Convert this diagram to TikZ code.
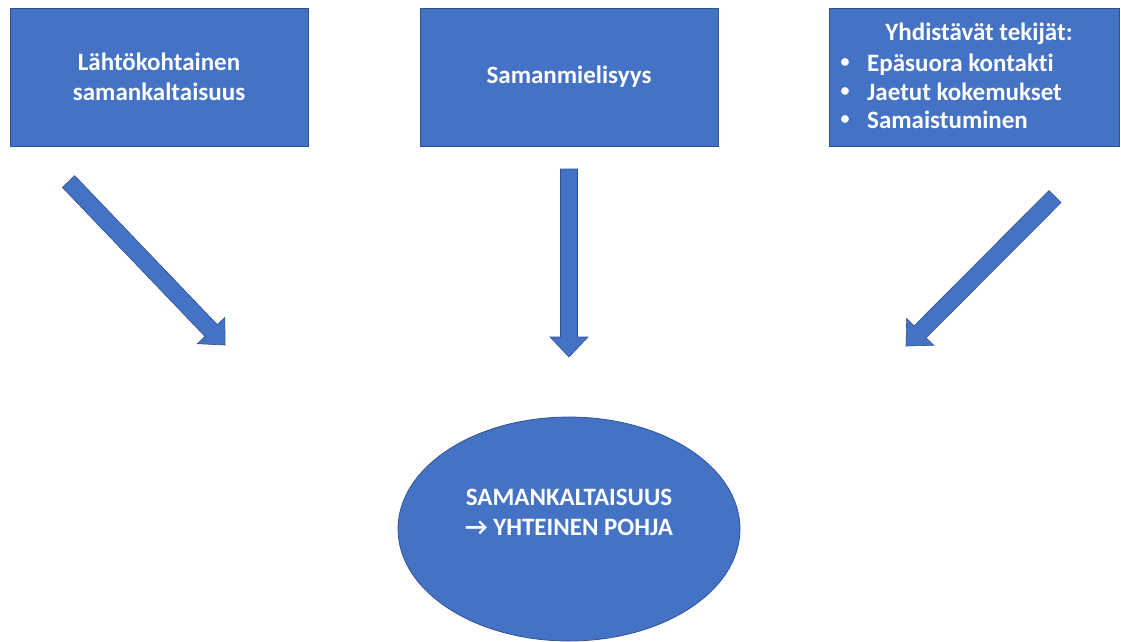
\documentclass[tikz,border=0pt]{standalone}
\usepackage{fontspec}
\setmainfont{Carlito}[Ligatures=NoCommon]
\newfontfamily\symfont{DejaVu Sans}
\usetikzlibrary{calc,shapes.geometric}
\definecolor{blueA}{HTML}{4472C4}
\definecolor{blueB}{HTML}{2F528F}
\tikzset{
  box/.style={draw=blueB, fill=blueA, line width=0.75pt, minimum height=138pt, inner sep=0pt,
    text=white, font=\fontsize{25}{30}\selectfont\bfseries, align=center},
  txt/.style={text=white, font=\fontsize{25}{30}\selectfont\bfseries, inner sep=0pt},
  dot/.style={text=white, font=\fontsize{18}{18}\selectfont\bfseries, inner sep=0pt},
  blockarrow/.style={draw=blueB, fill=blueA, line width=0.6pt, line join=miter},
  oval/.style={draw=blueB, fill=blueA, line width=0.75pt, ellipse, inner sep=0pt,
    minimum width=342pt, minimum height=224pt},
}
\newcommand\blockarr[2]{%
  \draw[blockarrow] let \p1=($(#2)-(#1)$), \n1={atan2(\y1,\x1)}, \n2={veclen(\x1,\y1)} in
  [shift={(#1)}, rotate=\n1] (0,-8.5) -- (\n2-20,-8.5) -- (\n2-20,-19) -- (\n2,0)
  -- (\n2-20,19) -- (\n2-20,8.5) -- (0,8.5) -- cycle;}
\begin{document}
\begin{tikzpicture}[x=1pt,y=1pt]
\useasboundingbox (0,0) rectangle (1121,-641);
% boxes
\node[box, minimum width=298pt] (lb) at (159,-77) {\raisebox{-2pt}{\parbox{280pt}{\centering Lähtökohtainen\\samankaltaisuus}}};
\node[box, minimum width=298pt] (mb) at (569,-77) {\raisebox{-2pt}{Samanmielisyys}};
\node[box, minimum width=290pt] (rb) at (974,-77) {};
\node[txt, anchor=base] (rt) at (979,-40) {Yhdistävät tekijät:};
\node[txt, anchor=base west] (b1) at (867,-71) {Epäsuora kontakti};
\node[txt, anchor=base west] (b2) at (867,-100) {Jaetut kokemukset};
\node[txt, anchor=base west] (b3) at (867,-128) {Samaistuminen};
\node[dot] (d1) at (845,-63) {•};
\node[dot] (d2) at (845,-92) {•};
\node[dot] (d3) at (845,-120) {•};
% ellipse
\node[oval] (el) at (569,-529) {};
\node[txt, align=center] (et) at (569,-512) {SAMANKALTAISUUS\\→ YHTEINEN POHJA};
% arrows
\coordinate (la) at (68.5,-181.5);
\coordinate (lt) at (225,-345);
\coordinate (ma) at (569,-169);
\coordinate (mt) at (569,-357);
\coordinate (ra) at (1055,-196.5);
\coordinate (rt2) at (906,-346);
\blockarr{la}{lt}
\blockarr{ma}{mt}
\blockarr{ra}{rt2}
\end{tikzpicture}
\end{document}
